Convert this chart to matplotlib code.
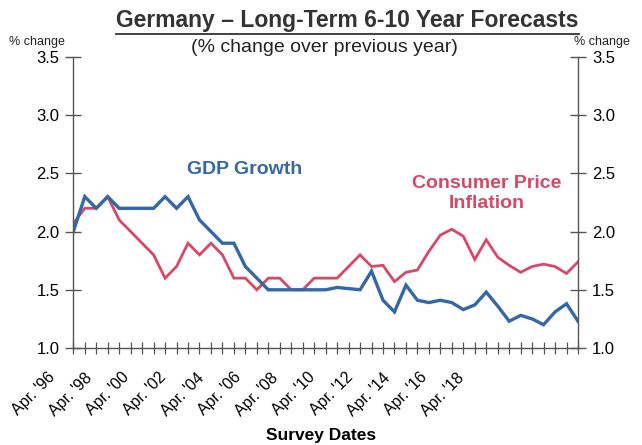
import matplotlib
matplotlib.use("Agg")
import matplotlib.pyplot as plt
import numpy as np
from matplotlib.lines import Line2D
import matplotlib.transforms as mtransforms

# ---- data (semi-annual surveys, Apr. 1996 .. Apr. 2018) ----
survey_index = list(range(45))
gdp_growth = [2.0, 2.3, 2.2, 2.3, 2.2, 2.2, 2.2, 2.2, 2.3, 2.2,
              2.3, 2.1, 2.0, 1.9, 1.9, 1.7, 1.6, 1.5, 1.5, 1.5,
              1.5, 1.5, 1.5, 1.52, 1.51, 1.5, 1.66, 1.41, 1.31, 1.54,
              1.41, 1.39, 1.41, 1.39, 1.33, 1.37, 1.48, 1.36, 1.23, 1.28,
              1.25, 1.2, 1.31, 1.38, 1.23]
cpi_inflation = [2.07, 2.2, 2.2, 2.3, 2.1, 2.0, 1.9, 1.8, 1.6, 1.7,
                 1.9, 1.8, 1.9, 1.8, 1.6, 1.6, 1.5, 1.6, 1.6, 1.5,
                 1.5, 1.6, 1.6, 1.6, 1.7, 1.8, 1.7, 1.71, 1.57, 1.65,
                 1.67, 1.83, 1.97, 2.02, 1.96, 1.76, 1.93, 1.78, 1.71, 1.65,
                 1.7, 1.72, 1.7, 1.64, 1.74]
x_labels = ["Apr. '96", "Apr. '98", "Apr. '00", "Apr. '02", "Apr. '04", "Apr. '06",
            "Apr. '08", "Apr. '10", "Apr. '12", "Apr. '14", "Apr. '16", "Apr. '18"]
y_ticks = [1.0, 1.5, 2.0, 2.5, 3.0, 3.5]

BLUE = "#3467a8"
RED = "#dc4666"
AXC = "#555555"

plt.rcParams['font.family'] = ['Liberation Sans', 'DejaVu Sans']

fig = plt.figure(figsize=(6.42, 4.45), dpi=100)
ax = fig.add_axes([0.1142, 0.218, 0.7861, 0.654])

ax.plot(survey_index, cpi_inflation, color=RED, lw=2.0, solid_joinstyle='miter')
ax.plot(survey_index, gdp_growth, color=BLUE, lw=2.4, solid_joinstyle='miter')

ax.spines['top'].set_visible(False)
for s in ['left', 'right', 'bottom']:
    ax.spines[s].set_color(AXC)
    ax.spines[s].set_linewidth(1.0)

ax.set_yticks(y_ticks)
ax.set_yticklabels([f"{v:.1f}" for v in y_ticks])
ax.tick_params(axis='y', which='both', direction='inout', length=12, width=1.0,
               color=AXC, labelsize=12, left=True, right=True,
               labelleft=True, labelright=True, pad=4)

# tick marks at every survey
ax.set_xticks(survey_index)
ax.set_xticklabels([])
ax.tick_params(axis='x', which='major', direction='inout', length=9, width=0.9, color=AXC)

ax.set_xlim(0, len(survey_index) - 1)
ax.set_ylim(1.0, 3.5)

# date labels (placed as in the reference layout)
label_step = 3.25
label_start = -2.3
trans = mtransforms.blended_transform_factory(ax.transData, ax.transAxes)
for i, lab in enumerate(x_labels):
    ax.text(label_start + label_step * i, -0.075, lab, transform=trans,
            rotation=45, ha='right', va='top', rotation_mode='anchor',
            fontsize=11.5, clip_on=False)

fig.text(0.5, 0.022, "Survey Dates", fontsize=12.5, fontweight='bold',
         ha='center', va='center')

# series labels
ax.text(0.339, 0.612, "GDP Growth", transform=ax.transAxes, color=BLUE,
        fontsize=14, fontweight='bold', ha='center', va='center')
ax.text(0.82, 0.532, "Consumer Price\nInflation", transform=ax.transAxes, color=RED,
        fontsize=14, fontweight='bold', ha='center', va='center', linespacing=1.25)

# titles
t = fig.text(0.5415, 0.955, "Germany \u2013 Long-Term 6-10 Year Forecasts",
             fontsize=16.5, fontweight='bold', ha='center', va='center', color='#333333')
fig.text(0.506, 0.893, "(% change over previous year)", fontsize=14,
         ha='center', va='center', color='#222222')
fig.text(0.058, 0.905, "% change", fontsize=9, ha='center', va='center', color='#222222')
fig.text(0.938, 0.905, "% change", fontsize=9, ha='center', va='center', color='#222222')

fig.canvas.draw()
bb = t.get_window_extent().transformed(fig.transFigure.inverted())
uy = bb.y0 - 0.006
fig.add_artist(Line2D([bb.x0, bb.x1], [uy, uy], transform=fig.transFigure,
                      color='#333333', lw=1.3))

fig.savefig("out.png", dpi=100)
